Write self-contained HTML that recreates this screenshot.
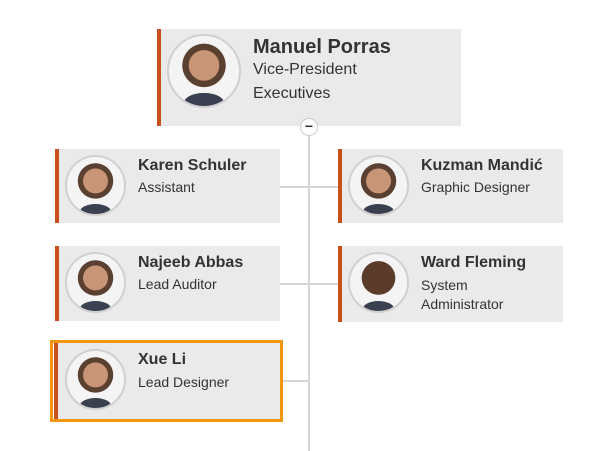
<!DOCTYPE html>
<html><head><meta charset="utf-8"><style>
body{margin:0;width:610px;height:451px;background:#fff;position:relative;overflow:hidden;font-family:"Liberation Sans",Arial,sans-serif;color:#333}
.card{position:absolute;background:#eaeaea;border-left:4px solid #c8511b;box-sizing:border-box}
.av{position:absolute;border-radius:50%;border:2px solid #d0d0d0;box-sizing:border-box;background:radial-gradient(circle at 50% 42%,#c99577 0 28%,#5a4030 29% 40%,#f4f4f4 41%);overflow:hidden}
.av::after{content:"";position:absolute;left:22%;right:22%;bottom:-10%;height:28%;border-radius:50% 50% 0 0;background:#3a4050}
.n{position:absolute;font-weight:bold}
.s{position:absolute}
.line{position:absolute;background:#d6d6d6}
</style></head><body>
<div class="line" style="left:308px;top:130px;width:2px;height:321px"></div>
<div class="line" style="left:280px;top:186px;width:58px;height:2px"></div>
<div class="line" style="left:280px;top:283px;width:58px;height:2px"></div>
<div class="line" style="left:282px;top:380px;width:27px;height:2px"></div>

<div class="card" style="left:157px;top:29px;width:304px;height:97px"></div>
<div class="av" style="left:167px;top:34px;width:74px;height:74px"></div>
<div class="n" style="left:253px;top:36px;font-size:20px">Manuel Porras</div>
<div class="s" style="left:253px;top:61px;font-size:16px">Vice-President</div>
<div class="s" style="left:253px;top:85px;font-size:16px">Executives</div>
<div style="position:absolute;left:300px;top:118px;width:18px;height:18px;border-radius:50%;background:#fff;border:1px solid #ccc;box-sizing:border-box;text-align:center;line-height:15px;font-weight:bold;font-size:14px">−</div>

<div class="card" style="left:55px;top:149px;width:225px;height:74px"></div>
<div class="av" style="left:65px;top:155px;width:61px;height:61px"></div>
<div class="n" style="left:138px;top:157px;font-size:16px">Karen Schuler</div>
<div class="s" style="left:138px;top:179px;font-size:14px">Assistant</div>

<div class="card" style="left:55px;top:246px;width:225px;height:75px"></div>
<div class="av" style="left:65px;top:252px;width:61px;height:61px"></div>
<div class="n" style="left:138px;top:254px;font-size:16px">Najeeb Abbas</div>
<div class="s" style="left:138px;top:276px;font-size:14px">Lead Auditor</div>

<div style="position:absolute;left:50px;top:340px;width:233px;height:82px;border:3px solid #f0960f;box-sizing:border-box"></div>
<div class="card" style="left:54px;top:343px;width:226px;height:76px"></div>
<div class="av" style="left:65px;top:349px;width:61px;height:61px"></div>
<div class="n" style="left:138px;top:351px;font-size:16px">Xue Li</div>
<div class="s" style="left:138px;top:374px;font-size:14px">Lead Designer</div>

<div class="card" style="left:338px;top:149px;width:225px;height:74px"></div>
<div class="av" style="left:348px;top:155px;width:61px;height:61px"></div>
<div class="n" style="left:421px;top:157px;font-size:16px">Kuzman Mandić</div>
<div class="s" style="left:421px;top:179px;font-size:14px">Graphic Designer</div>

<div class="card" style="left:338px;top:246px;width:225px;height:76px"></div>
<div class="av" style="left:348px;top:252px;width:61px;height:61px;background:radial-gradient(circle at 50% 42%,#5a3a28 0 38%,#f4f4f4 39%)"></div>
<div class="n" style="left:421px;top:254px;font-size:16px">Ward Fleming</div>
<div class="s" style="left:421px;top:276px;font-size:14px;line-height:19px">System<br>Administrator</div>
</body></html>
